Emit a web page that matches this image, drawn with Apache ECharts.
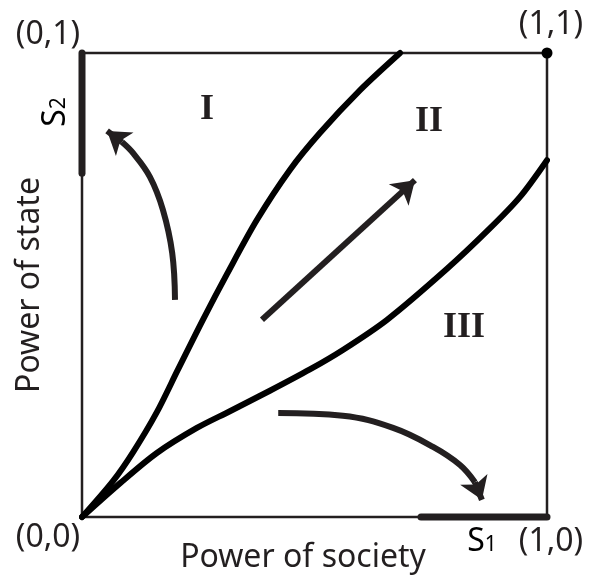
<!DOCTYPE html>
<html><head><meta charset="utf-8">
<script src="https://cdn.jsdelivr.net/npm/echarts@6/dist/echarts.min.js"></script>
<style>html,body{margin:0;padding:0;background:#fff}#c{width:589px;height:579px}</style>
</head><body><div id="c"></div>
<script>
// Boundary curves (x = power of society, y = power of state)
const boundaryI = [[0,0],[0.067,0.078],[0.110,0.140],[0.161,0.226],[0.206,0.317],[0.260,0.425],[0.312,0.524],[0.376,0.640],[0.447,0.748],[0.512,0.828],[0.598,0.920],[0.684,1.0]];
const boundaryIII = [[0,0],[0.082,0.073],[0.161,0.138],[0.247,0.192],[0.318,0.228],[0.404,0.272],[0.490,0.318],[0.561,0.360],[0.656,0.425],[0.785,0.535],[0.877,0.622],[0.942,0.690],[1.0,0.769]];
// Arrows
const arrowIShaft = [[0.200,0.468],[0.194,0.569],[0.174,0.662],[0.146,0.733],[0.110,0.784],[0.086,0.808]];
const arrowIHead = [[0.086,0.808],[0.054,0.832]];
const arrowII = [[0.387,0.425],[0.716,0.726]];
const arrowIIIShaft = [[0.422,0.224],[0.561,0.218],[0.669,0.192],[0.755,0.151],[0.813,0.112],[0.845,0.075]];
const arrowIIIHead = [[0.845,0.075],[0.860,0.037]];
// Stable sets on the axes
const segS2 = [[0,0.741],[0,1]];
const segS1 = [[0.729,0],[1,0]];
const cornerPoint = [[1,1]];
// Texts
const xTitle = 'Power of society';
const yTitle = 'Power of state';
const cornerLabels = ['(0,1)','(1,1)','(0,0)','(1,0)'];
const regionLabels = ['I','II','III'];

const INK = '#231f20';
const chart = echarts.init(document.getElementById('c'));
const sans = "'Noto Sans', 'Open Sans', sans-serif";
const serif = "'Liberation Serif', 'DejaVu Serif', serif";

function curve(data){
  return {type:'line', data, smooth:0.3, showSymbol:false, symbol:'none', clip:false,
    lineStyle:{color:'#000', width:6, cap:'round', join:'round'}, silent:true, z:3};
}
function shaft(data){
  return {type:'line', data, smooth:0.4, showSymbol:false, symbol:'none', clip:false,
    lineStyle:{color:INK, width:6, cap:'butt'}, silent:true, z:4};
}
function head(coords){
  return {type:'lines', coordinateSystem:'cartesian2d', polyline:false, silent:true, z:5,
    symbol:['none','arrow'], symbolSize:[22,22],
    lineStyle:{color:INK, width:6, opacity:1, curveness:0},
    data:[{coords}]};
}
function seg(data){
  return {type:'line', data, showSymbol:false, symbol:'none', clip:false,
    lineStyle:{color:INK, width:7, cap:'round'}, silent:true, z:2};
}

const labStyle = {fontFamily:sans, fontSize:32, fill:INK};
const romStyle = {fontFamily:serif, fontSize:36, fontWeight:'bold', fill:INK};

chart.setOption({
  animation:false,
  backgroundColor:'#fff',
  grid:{left:82, top:53, width:465, height:464, show:true, borderColor:INK, borderWidth:2.5, backgroundColor:'transparent'},
  xAxis:{type:'value', min:0, max:1, axisLine:{show:false}, axisTick:{show:false}, axisLabel:{show:false}, splitLine:{show:false},
    name:xTitle, nameLocation:'middle', nameGap:25,
    nameTextStyle:{fontFamily:sans, fontSize:32, color:INK, padding:[0,23,0,0]}},
  yAxis:{type:'value', min:0, max:1, axisLine:{show:false}, axisTick:{show:false}, axisLabel:{show:false}, splitLine:{show:false},
    name:yTitle, nameLocation:'middle', nameGap:36,
    nameTextStyle:{fontFamily:sans, fontSize:32, color:INK}},
  series:[
    seg(segS2), seg(segS1),
    curve(boundaryI), curve(boundaryIII),
    shaft(arrowIShaft), head(arrowIHead),
    head(arrowII),
    shaft(arrowIIIShaft), head(arrowIIIHead),
    {type:'scatter', data:cornerPoint, symbolSize:11, itemStyle:{color:'#000', opacity:1}, clip:false, silent:true, z:6}
  ],
  graphic:[
    {type:'text', x:48, y:35, style:Object.assign({text:cornerLabels[0], align:'center', verticalAlign:'middle'}, labStyle)},
    {type:'text', x:551, y:25, style:Object.assign({text:cornerLabels[1], align:'center', verticalAlign:'middle'}, labStyle)},
    {type:'text', x:48, y:538, style:Object.assign({text:cornerLabels[2], align:'center', verticalAlign:'middle'}, labStyle)},
    {type:'text', x:551, y:542, style:Object.assign({text:cornerLabels[3], align:'center', verticalAlign:'middle'}, labStyle)},
    {type:'text', x:482, y:542, style:{text:'{a|S}{b|1}', align:'center', verticalAlign:'middle',
      rich:{a:{fontFamily:sans, fontSize:32, color:INK}, b:{fontFamily:sans, fontSize:21, color:INK, verticalAlign:'bottom', padding:[0,0,2,0]}}}},
    {type:'text', x:56, y:112, rotation:Math.PI/2, style:{text:'{a|S}{b|2}', align:'center', verticalAlign:'middle',
      rich:{a:{fontFamily:sans, fontSize:32, color:INK}, b:{fontFamily:sans, fontSize:21, color:INK, verticalAlign:'bottom', padding:[0,0,2,0]}}}},
    {type:'text', x:207, y:110, style:Object.assign({text:regionLabels[0], align:'center', verticalAlign:'middle'}, romStyle)},
    {type:'text', x:429, y:122, style:Object.assign({text:regionLabels[1], align:'center', verticalAlign:'middle'}, romStyle)},
    {type:'text', x:464, y:328, style:Object.assign({text:regionLabels[2], align:'center', verticalAlign:'middle'}, romStyle)}
  ]
});
</script>
</body></html>
